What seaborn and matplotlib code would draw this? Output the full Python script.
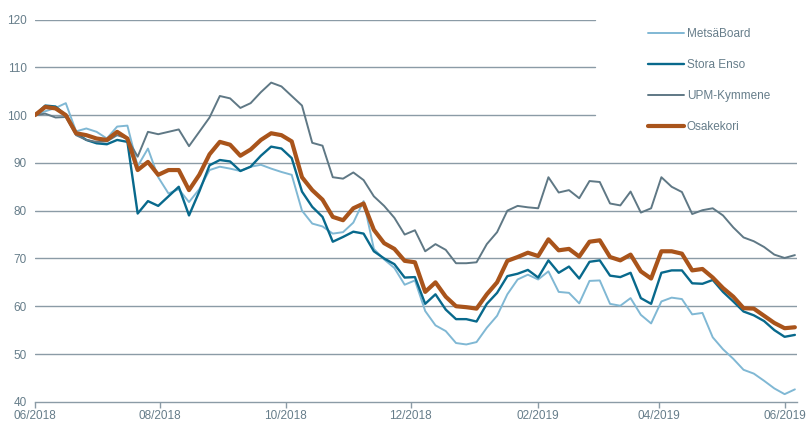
import pandas as pd
import seaborn as sns
import matplotlib.pyplot as plt

sns.set_theme(style="white")
plt.rcParams["font.family"] = ["Liberation Sans", "DejaVu Sans"]

# index values, sampled every 5 days from 1.6.2018
start_date = "2018-06-01"
metsa_board = [
    100, 100.8, 101.5, 102.5, 96.6, 97.2, 96.5, 95.1, 97.6, 97.8,
    89.3, 93, 87, 83.6, 84.5, 81.8, 84.5, 88.5, 89.2, 88.8,
    88.3, 89.2, 89.6, 88.8, 88.1, 87.5, 80, 77.3, 76.7, 75.2,
    75.5, 77.5, 82, 72, 69.8, 68, 64.5, 65.4, 59, 56,
    54.8, 52.3, 52, 52.5, 55.5, 58, 62.5, 65.6, 66.6, 65.6,
    67.3, 63, 62.8, 60.6, 65.3, 65.4, 60.5, 60.1, 61.7, 58.2,
    56.4, 61, 61.8, 61.5, 58.3, 58.6, 53.5, 51, 49, 46.7,
    45.9, 44.4, 42.8, 41.6, 42.6,
]
stora_enso = [
    100, 102, 101.8, 100, 96.2, 94.8, 94.1, 93.9, 94.8, 94.4,
    79.4, 82, 81, 83, 85, 79, 84, 89.5, 90.6, 90.3,
    88.3, 89.2, 91.5, 93.4, 93, 91, 84, 80.8, 78.7, 73.5,
    74.5, 75.6, 75.2, 71.5, 70, 68.8, 66, 66.1, 60.5, 62.5,
    59.3, 57.3, 57.3, 56.8, 60.5, 62.8, 66.3, 66.8, 67.6, 66,
    69.6, 67, 68.3, 65.8, 69.3, 69.6, 66.4, 66.1, 67, 61.7,
    60.5, 67, 67.5, 67.5, 64.8, 64.7, 65.5, 63, 61, 58.9,
    58.1, 56.9, 55, 53.6, 54,
]
upm_kymmene = [
    100, 100.3, 99.5, 99.6, 95.8, 94.8, 94.4, 94.5, 95.8, 95.1,
    91.3, 96.5, 96, 96.5, 97, 93.5, 96.5, 99.5, 104, 103.5,
    101.5, 102.5, 104.8, 106.8, 106, 104, 102, 94.2, 93.6, 87,
    86.7, 88, 86.4, 83, 81, 78.5, 75, 75.9, 71.5, 73,
    71.8, 69, 69, 69.2, 73, 75.5, 80, 81, 80.7, 80.5,
    87, 83.8, 84.3, 82.6, 86.2, 86, 81.5, 81.1, 84, 79.6,
    80.5, 87, 85, 83.9, 79.3, 80.1, 80.5, 79, 76.5, 74.4,
    73.6, 72.4, 70.8, 70.1, 70.7,
]
osakekori = [
    100, 101.7, 101.4, 100, 96.2, 95.8, 95.1, 94.8, 96.5, 95.1,
    88.5, 90.2, 87.5, 88.5, 88.5, 84.3, 87.5, 91.8, 94.4, 93.8,
    91.5, 92.8, 94.8, 96.2, 95.8, 94.5, 87, 84.3, 82.3, 78.7,
    78, 80.5, 81.5, 76, 73.2, 72, 69.5, 69.2, 63, 65,
    62, 60, 59.8, 59.5, 62.5, 65, 69.5, 70.3, 71.2, 70.5,
    74, 71.7, 72, 70.4, 73.5, 73.8, 70.3, 69.6, 70.8, 67.3,
    65.8, 71.5, 71.5, 71, 67.5, 67.8, 66, 63.8, 62, 59.6,
    59.5, 58, 56.5, 55.4, 55.6,
]

series_names = ["MetsäBoard", "Stora Enso", "UPM-Kymmene", "Osakekori"]
y_ticks = [40, 50, 60, 70, 80, 90, 100, 110, 120]
x_tick_dates = ["2018-06-01", "2018-08-01", "2018-10-01", "2018-12-01",
                "2019-02-01", "2019-04-01", "2019-06-01"]
x_tick_labels = ["06/2018", "08/2018", "10/2018", "12/2018",
                 "02/2019", "04/2019", "06/2019"]

dates = pd.date_range(start_date, periods=len(osakekori), freq="5D")
df = pd.DataFrame({
    "date": dates,
    "MetsäBoard": metsa_board,
    "Stora Enso": stora_enso,
    "UPM-Kymmene": upm_kymmene,
    "Osakekori": osakekori,
})

colors = {"MetsäBoard": "#80b8d4", "Stora Enso": "#08698c",
          "UPM-Kymmene": "#5f7885", "Osakekori": "#a9541b"}
widths = {"MetsäBoard": 1.4, "Stora Enso": 1.7, "UPM-Kymmene": 1.4, "Osakekori": 3.0}
grid_color = "#8b9ba6"
text_color = "#667d8a"

fig = plt.figure(figsize=(8.08, 4.21), dpi=100)
ax = fig.add_axes([0.0433, 0.0456, 0.943, 0.908])

# grid lines; the upper ones stop short to leave room for the legend
for v in y_ticks[1:]:
    ax.axhline(v, xmax=0.735 if v >= 100 else 1.0, color=grid_color, lw=1.0, zorder=0)

for name in series_names:
    sns.lineplot(x=df["date"], y=df[name], ax=ax, color=colors[name],
                 linewidth=widths[name], label=name)

ax.set_xlim(pd.Timestamp("2018-06-01"), pd.Timestamp("2019-06-07"))
ax.set_ylim(40, 120)
ax.set_yticks(y_ticks)
ax.set_xticks(pd.to_datetime(x_tick_dates))
ax.set_xticklabels(x_tick_labels)
ax.set_xlabel("")
ax.set_ylabel("")

for side in ["top", "right", "left"]:
    ax.spines[side].set_visible(False)
ax.spines["bottom"].set_color(grid_color)
ax.spines["bottom"].set_linewidth(1.0)
ax.tick_params(axis="x", length=4, width=1, color=grid_color, labelsize=8.5,
               labelcolor=text_color, pad=2, direction="out", bottom=True)
ax.tick_params(axis="y", length=0, labelsize=8.5, labelcolor=text_color, pad=6)

leg = ax.legend(loc="upper left", bbox_to_anchor=(0.805, 0.977), frameon=False,
                fontsize=8.5, labelspacing=1.6, handlelength=3.0,
                handletextpad=0.25, borderaxespad=0, borderpad=0)
for t in leg.get_texts():
    t.set_color(text_color)

fig.savefig("out.png", dpi=100)
